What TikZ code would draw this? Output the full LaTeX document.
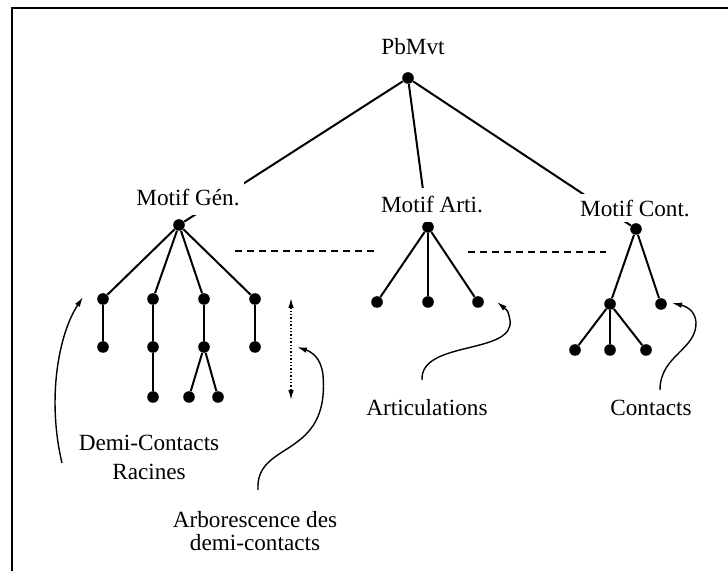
\documentclass[tikz,border=0pt]{standalone}
\usepackage{fontspec}
\setmainfont{Liberation Serif}
\usetikzlibrary{arrows.meta}
\tikzset{>={Latex[length=5pt,width=2.8pt]}}

\begin{document}
\begin{tikzpicture}[x=0.5pt,y=-0.5pt]

  \tikzstyle{dnode} = [circle, fill=black, draw=none, inner sep=0pt, minimum size=5.8pt]
  \tikzstyle{lnode} = [fill=white, inner xsep=2pt, inner ysep=4.5pt, font=\fontsize{11.6}{14}\selectfont]
  \tikzstyle{tnode} = [align=center, inner sep=0pt, font=\fontsize{11.6}{14.5}\selectfont]
  \tikzstyle{edge} = [line width=1pt]
  \tikzstyle{callout} = [line width=0.7pt, ->]

  \useasboundingbox (0,0) rectangle (728,571);
  \draw[line width=1pt] (12,571) -- (12,8) -- (728,8);

  \node[dnode] (root) at (408,78) {};
  \node[dnode] (gen) at (179,225) {};
  \node[dnode] (arti) at (428,227) {};
  \node[dnode] (cont) at (636,229) {};

  % Motif Gen.
  \node[dnode] (ga1) at (103,299) {};
  \node[dnode] (ga2) at (103,347) {};
  \node[dnode] (gb1) at (153,299) {};
  \node[dnode] (gb2) at (153,347) {};
  \node[dnode] (gb3) at (153,397) {};
  \node[dnode] (gc1) at (204,299) {};
  \node[dnode] (gc2) at (204,347) {};
  \node[dnode] (gc3) at (189,397) {};
  \node[dnode] (gc4) at (218,397) {};
  \node[dnode] (gd1) at (255,299) {};
  \node[dnode] (gd2) at (255,347) {};

  % Motif Arti.
  \node[dnode] (aa) at (377,302) {};
  \node[dnode] (ab) at (428,302) {};
  \node[dnode] (ac) at (478,302) {};

  % Motif Cont.
  \node[dnode] (ca) at (610,304) {};
  \node[dnode] (cb) at (661,304) {};
  \node[dnode] (ca1) at (575,350) {};
  \node[dnode] (ca2) at (610,350) {};
  \node[dnode] (ca3) at (646,350) {};

  \draw[edge] (root) -- (gen);
  \draw[edge] (root) -- (arti);
  \draw[edge] (root) -- (cont);

  \draw[edge] (gen) -- (ga1);
  \draw[edge] (gen) -- (gb1);
  \draw[edge] (gen) -- (gc1);
  \draw[edge] (gen) -- (gd1);
  \draw[edge] (ga1) -- (ga2);
  \draw[edge] (gb1) -- (gb2) -- (gb3);
  \draw[edge] (gc1) -- (gc2);
  \draw[edge] (gc2) -- (gc3);
  \draw[edge] (gc2) -- (gc4);
  \draw[edge] (gd1) -- (gd2);

  \draw[edge] (arti) -- (aa);
  \draw[edge] (arti) -- (ab);
  \draw[edge] (arti) -- (ac);

  \draw[edge] (cont) -- (ca);
  \draw[edge] (cont) -- (cb);
  \draw[edge] (ca) -- (ca1);
  \draw[edge] (ca) -- (ca2);
  \draw[edge] (ca) -- (ca3);

  \node[lnode] (lroot) at (413,47) {PbMvt};
  \node[lnode] (lgen) at (188,198) {Motif Gén.};
  \node[lnode] (larti) at (432,205) {Motif Arti.};
  \node[lnode, inner ysep=3pt] (lcont) at (635,208) {Motif Cont.};

  \node[tnode] (tdemi) at (149,457) {Demi-Contacts\\Racines};
  \node[tnode, font=\fontsize{11.6}{11.5}\selectfont] (tarbo) at (255,531) {Arborescence des\\demi-contacts};
  \node[tnode] (tarti) at (427,408) {Articulations};
  \node[tnode] (tcont) at (651,408) {Contacts};

  \coordinate (dashA1) at (235,251);
  \coordinate (dashA2) at (378,251);
  \coordinate (dashB1) at (468,252);
  \coordinate (dashB2) at (606,252);
  \draw[line width=0.8pt, dash pattern=on 3.5pt off 2.5pt] (dashA1) -- (dashA2);
  \draw[line width=0.8pt, dash pattern=on 3.5pt off 2.5pt] (dashB1) -- (dashB2);

  \coordinate (dbltop) at (291,298);
  \coordinate (dblbot) at (291,400);
  \draw[line width=0.7pt, densely dotted, <->] (dbltop) -- (dblbot);

  \coordinate (demitail) at (62,463);
  \coordinate (demitip) at (83,297);
  \coordinate (arbotail) at (258,490);
  \coordinate (arbotip) at (297,347);
  \coordinate (artitail) at (422,380);
  \coordinate (artitip) at (497,302);
  \coordinate (conttail) at (660,390);
  \coordinate (conttip) at (672,303);

  \draw[callout] (demitail) .. controls (47,400) and (58,335) .. (demitip);
  \draw[callout] (arbotail) .. controls (255,440) and (330,460) .. (323,375) .. controls (321,358) and (312,352) .. (arbotip);
  \draw[callout] (artitail) .. controls (420,340) and (515,355) .. (510,320) .. controls (508,311) .. (artitip);
  \draw[callout] (conttail) .. controls (660,355) and (697,350) .. (696,322) .. controls (695,310) and (685,306) .. (conttip);

\end{tikzpicture}
\end{document}
